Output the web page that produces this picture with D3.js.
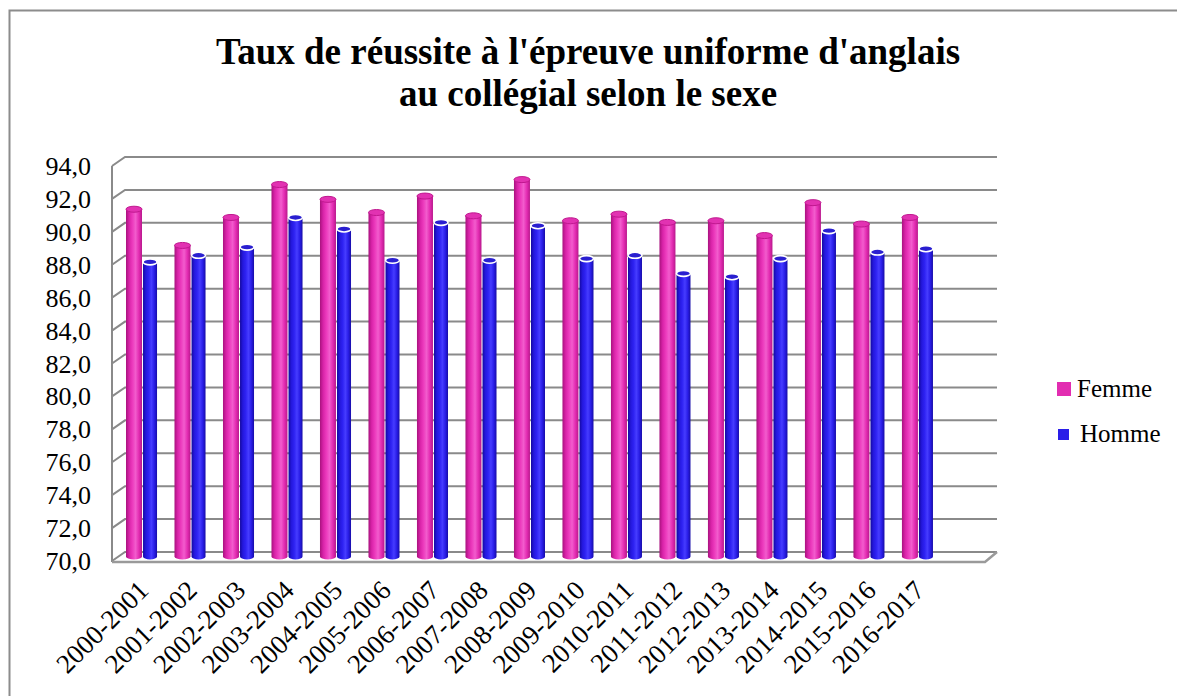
<!DOCTYPE html>
<html>
<head>
<meta charset="utf-8">
<script src="https://cdn.jsdelivr.net/npm/d3@7"></script>
<style>
  body { margin: 0; background: #fff; }
  svg { display: block; }
</style>
</head>
<body>
<svg id="chart" width="1177" height="696"></svg>
<script>
const categories = [
  '2000-2001', '2001-2002', '2002-2003', '2003-2004', '2004-2005', '2005-2006',
  '2006-2007', '2007-2008', '2008-2009', '2009-2010', '2010-2011', '2011-2012',
  '2012-2013', '2013-2014', '2014-2015', '2015-2016', '2016-2017',
];
const femme = [91.1, 88.9, 90.6, 92.6, 91.7, 90.9, 91.9, 90.7, 92.9, 90.4, 90.8, 90.3, 90.4, 89.5, 91.5, 90.2, 90.6];
const homme = [87.9, 88.3, 88.8, 90.6, 89.9, 88.0, 90.3, 88.0, 90.1, 88.1, 88.3, 87.2, 87.0, 88.1, 89.8, 88.5, 88.7];
const yTicks = [70, 72, 74, 76, 78, 80, 82, 84, 86, 88, 90, 92, 94];
const seriesNames = ['Femme', 'Homme'];
const titleLines = ["Taux de réussite à l'épreuve uniforme d'anglais", 'au collégial selon le sexe'];

const svg = d3.select('#chart');

const width = 1177;
const height = 696;
const serif = 'Times New Roman, Times, Tinos, Liberation Serif, DejaVu Serif, Noto Serif, serif';

// 3d depth offset of the back wall
const depth = { dx: 13, dy: -9 };

const plot = { left: 112, right: 985, top: 157, bottom: 552 };

const fr = d3.formatLocale({ decimal: ',', thousands: ' ', grouping: [3], currency: ['', ' €'] });
const fmt = fr.format('.1f');

svg.attr('font-family', serif);

svg.append('rect')
  .attr('width', width)
  .attr('height', height)
  .attr('fill', '#fff');

// outer frame
svg.append('path')
  .attr('d', `M9.5,${height} L9.5,10.5 L${width},10.5`)
  .attr('fill', 'none')
  .attr('stroke', '#8c8c8c')
  .attr('stroke-width', 2);

//
// TITLE
//

svg.append('g')
  .selectAll('text')
  .data(titleLines)
  .join('text')
  .attr('x', 588)
  .attr('y', (d, i) => 64 + i * 42)
  .attr('text-anchor', 'middle')
  .attr('font-size', 37)
  .attr('font-weight', 'bold')
  .text((d) => d);

//
// SCALES
//

const y = d3.scaleLinear().domain([70, 94]).range([plot.bottom, plot.top]);

const x = d3
  .scaleBand()
  .domain(categories)
  .range([127, 933])
  .paddingInner(0.38)
  .paddingOuter(0);

const xSub = d3.scaleBand().domain(seriesNames).range([0, x.bandwidth()]);

//
// WALLS AND GRID
//

const g = svg.append('g');

g.selectAll('path.grid')
  .data(yTicks)
  .join('path')
  .attr('class', 'grid')
  .attr('fill', 'none')
  .attr('stroke', '#8a8a8a')
  .attr('stroke-width', 2)
  .attr('d', (d) => {
    const yb = y(d);
    return `M${plot.left},${yb - depth.dy} L${plot.left + depth.dx},${yb} L${plot.right + depth.dx - 1},${yb}`;
  });

g.append('line')
  .attr('x1', plot.left)
  .attr('x2', plot.left)
  .attr('y1', y(94) - depth.dy)
  .attr('y2', y(70) - depth.dy + 1)
  .attr('stroke', '#8a8a8a')
  .attr('stroke-width', 2);

// floor front edge
g.append('path')
  .attr('fill', 'none')
  .attr('stroke', '#9a9a9a')
  .attr('stroke-width', 2.5)
  .attr('d', `M${plot.left},${y(70) - depth.dy + 1} L${plot.right},${y(70) - depth.dy + 1} L${plot.right + depth.dx - 1},${y(70)}`);

// y labels
g.selectAll('text.ytick')
  .data(yTicks)
  .join('text')
  .attr('class', 'ytick')
  .attr('x', 91)
  .attr('y', (d) => y(d) - depth.dy + 9)
  .attr('text-anchor', 'end')
  .attr('font-size', 26)
  .text((d) => fmt(d));

//
// CYLINDERS
//

const defs = svg.append('defs');

const gradients = {
  Femme: ['#a8127e', '#d823a8', '#ec3abd', '#f25ccd', '#e42db3', '#b8188c'],
  Homme: ['#1408a0', '#2418dc', '#2e22f2', '#463cff', '#2a1ee8', '#170ca8'],
};

seriesNames.forEach((name) => {
  const grad = defs
    .append('linearGradient')
    .attr('id', `grad-${name}`)
    .attr('x1', '0%')
    .attr('x2', '100%')
    .attr('y1', '0%')
    .attr('y2', '0%');
  const stops = gradients[name];
  stops.forEach((c, i) => {
    grad.append('stop')
      .attr('offset', `${(i / (stops.length - 1)) * 100}%`)
      .attr('stop-color', c);
  });
});

const barDepth = 4.5;
const bars = [];
categories.forEach((c, i) => {
  bars.push({ cat: c, series: 'Femme', value: femme[i] });
  bars.push({ cat: c, series: 'Homme', value: homme[i] });
});

const barWidth = { Femme: 16, Homme: 14 };
const barShift = { Femme: -1, Homme: 1 };

const cyl = g.selectAll('g.bar')
  .data(bars)
  .join('g')
  .attr('class', 'bar');

cyl.each(function (d) {
  const el = d3.select(this);
  const w = barWidth[d.series];
  const x0 = x(d.cat) + xSub(d.series) + barShift[d.series];
  const rx = w / 2;
  const ry = 3;
  const yt = y(d.value) + barDepth;
  const yb = y(70) + barDepth;

  el.append('path')
    .attr('fill', `url(#grad-${d.series})`)
    .attr('d', `M${x0},${yt} L${x0},${yb} A${rx},${ry} 0 0 0 ${x0 + w},${yb} L${x0 + w},${yt} Z`);

  if (d.series === 'Femme') {
    el.append('ellipse')
      .attr('cx', x0 + rx)
      .attr('cy', yt)
      .attr('rx', rx)
      .attr('ry', ry)
      .attr('fill', '#e232b2')
      .attr('stroke', '#c0188f')
      .attr('stroke-width', 1);
  } else {
    el.append('ellipse')
      .attr('cx', x0 + rx)
      .attr('cy', yt)
      .attr('rx', rx)
      .attr('ry', ry)
      .attr('fill', '#2a1fd0')
      .attr('stroke', '#ffffff')
      .attr('stroke-width', 1.6);
  }
});

// x labels
g.selectAll('text.xtick')
  .data(categories)
  .join('text')
  .attr('class', 'xtick')
  .attr('text-anchor', 'end')
  .attr('font-size', 27)
  .attr('transform', (d) => `translate(${x(d) + x.bandwidth() / 2 + 8},${592}) rotate(-45)`)
  .text((d) => d);

//
// LEGEND
//

const legend = svg.append('g');

const legendItems = legend.selectAll('g')
  .data(seriesNames)
  .join('g')
  .attr('transform', (d, i) => `translate(1057,${389 + i * 45})`);

legendItems.append('rect')
  .attr('x', (d, i) => (i === 0 ? 0 : 1))
  .attr('y', (d, i) => (i === 0 ? -7 : -5))
  .attr('width', (d, i) => (i === 0 ? 14 : 11))
  .attr('height', (d, i) => (i === 0 ? 14 : 11))
  .attr('fill', (d) => (d === 'Femme' ? '#e22db1' : '#2a1ee8'));

legendItems.append('text')
  .attr('x', (d, i) => (i === 0 ? 20 : 23))
  .attr('y', 8)
  .attr('font-size', 25)
  .text((d) => d);
</script>
</body>
</html>
